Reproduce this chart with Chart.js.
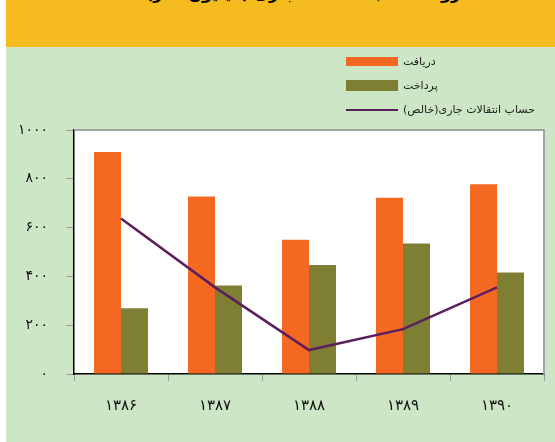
<!DOCTYPE html>
<html>
<head>
<meta charset="utf-8">
<script src="https://cdn.jsdelivr.net/npm/chart.js@4/dist/chart.umd.min.js"></script>
<style>
  html, body { margin: 0; padding: 0; background: #fff; }
  #page { position: relative; width: 555px; height: 442px; overflow: hidden; font-family: "DejaVu Sans", sans-serif; }
  #banner { position: absolute; left: 6px; top: 0; width: 549px; height: 47px; background: #f6bb1e; overflow: hidden; }
  #banner span { position: absolute; left: 140px; top: -16px; font-size: 16px; line-height: 20px; font-weight: bold; color: #000; white-space: nowrap; }
  #panel { position: absolute; left: 6px; top: 47px; width: 549px; height: 395px; background: #cde6c5; }
  #legend { position: absolute; left: 346px; top: 52px; font-size: 11px; color: #222; }
  .item { position: absolute; left: 0; height: 20px; white-space: nowrap; }
  .swatch { position: absolute; left: 0; width: 52px; }
  .label { position: absolute; left: 57px; top: 0; line-height: 20px; }
</style>
</head>
<body>
<div id="page">
  <div id="banner"><span dir="rtl">روند حساب انتقالات جاری (میلیون دلار)</span></div>
  <div id="panel"><canvas id="chart" width="549" height="395"></canvas></div>
  <div id="legend"></div>
</div>
<script>
const categories = ['۱۳۸۶', '۱۳۸۷', '۱۳۸۸', '۱۳۸۹', '۱۳۹۰'];
const receipts = [910, 727, 550, 722, 778];
const payments = [269, 363, 447, 535, 416];
const netBalance = [637, 355, 98, 184, 355];
const yTickLabels = ['۰', '۲۰۰', '۴۰۰', '۶۰۰', '۸۰۰', '۱۰۰۰'];
const seriesNames = ['دریافت', 'پرداخت', 'حساب انتقالات جاری(خالص)'];

const colors = ['#f56822', '#7f7f33', '#5c1f5e'];

// legend in html, built from the series names
const legend = document.getElementById('legend');
seriesNames.forEach(function (name, i) {
    const item = document.createElement('div');
    item.className = 'item';
    item.style.top = (i * 24) + 'px';
    const sw = document.createElement('div');
    sw.className = 'swatch';
    sw.style.background = colors[i];
    if (i < 2) {
        sw.style.top = (i === 0 ? 5 : 4) + 'px';
        sw.style.height = (i === 0 ? 9 : 11) + 'px';
    } else {
        sw.style.top = '9px';
        sw.style.height = '2px';
    }
    const lb = document.createElement('span');
    lb.className = 'label';
    lb.dir = 'rtl';
    lb.textContent = name;
    item.appendChild(sw);
    item.appendChild(lb);
    legend.appendChild(item);
});

const plotFrame = {
    id: 'plotFrame',
    beforeDraw(chart) {
        const a = chart.chartArea, ctx = chart.ctx;
        ctx.save();
        ctx.fillStyle = '#ffffff';
        ctx.fillRect(a.left, a.top, a.right - a.left, a.bottom - a.top);
        ctx.restore();
    },
    afterDraw(chart) {
        const a = chart.chartArea, ctx = chart.ctx;
        ctx.save();
        ctx.strokeStyle = '#a3a3a3';
        ctx.lineWidth = 2;
        ctx.beginPath();
        ctx.moveTo(a.left, a.top);
        ctx.lineTo(a.right, a.top);
        ctx.lineTo(a.right, a.bottom);
        ctx.stroke();
        ctx.restore();
    }
};

const ctx = document.getElementById('chart').getContext('2d');
new Chart(ctx, {
    type: 'bar',
    data: {
        labels: categories,
        datasets: [
            { type: 'line', label: seriesNames[2], data: netBalance, borderColor: colors[2], borderWidth: 2.5,
              pointRadius: 0, tension: 0, fill: false, order: 0 },
            { label: seriesNames[0], data: receipts, backgroundColor: colors[0], order: 1,
              categoryPercentage: 0.574, barPercentage: 1.0 },
            { label: seriesNames[1], data: payments, backgroundColor: colors[1], order: 1,
              categoryPercentage: 0.574, barPercentage: 1.0 }
        ]
    },
    options: {
        responsive: false,
        animation: false,
        layout: { padding: { top: 83, right: 11, left: 0, bottom: 0 } },
        plugins: {
            legend: { display: false },
            tooltip: { enabled: false }
        },
        scales: {
            x: {
                grid: { display: true, drawOnChartArea: false, tickLength: 7, color: '#999999', offset: true },
                border: { color: '#000000', width: 1.5 },
                ticks: { color: '#111', padding: 16, font: { family: 'DejaVu Sans', size: 15 } },
                afterFit(scale) { scale.height = 68; }
            },
            y: {
                min: 0,
                max: 1000,
                grid: { display: true, drawOnChartArea: false, tickLength: 8, color: '#999999' },
                border: { color: '#000000', width: 1.5 },
                ticks: {
                    stepSize: 200,
                    color: '#111',
                    padding: 18,
                    font: { family: 'DejaVu Sans', size: 14 },
                    callback: function (v) { return yTickLabels[v / 200]; }
                },
                afterFit(scale) { scale.width = 68; }
            }
        }
    },
    plugins: [plotFrame]
});
</script>
</body>
</html>
